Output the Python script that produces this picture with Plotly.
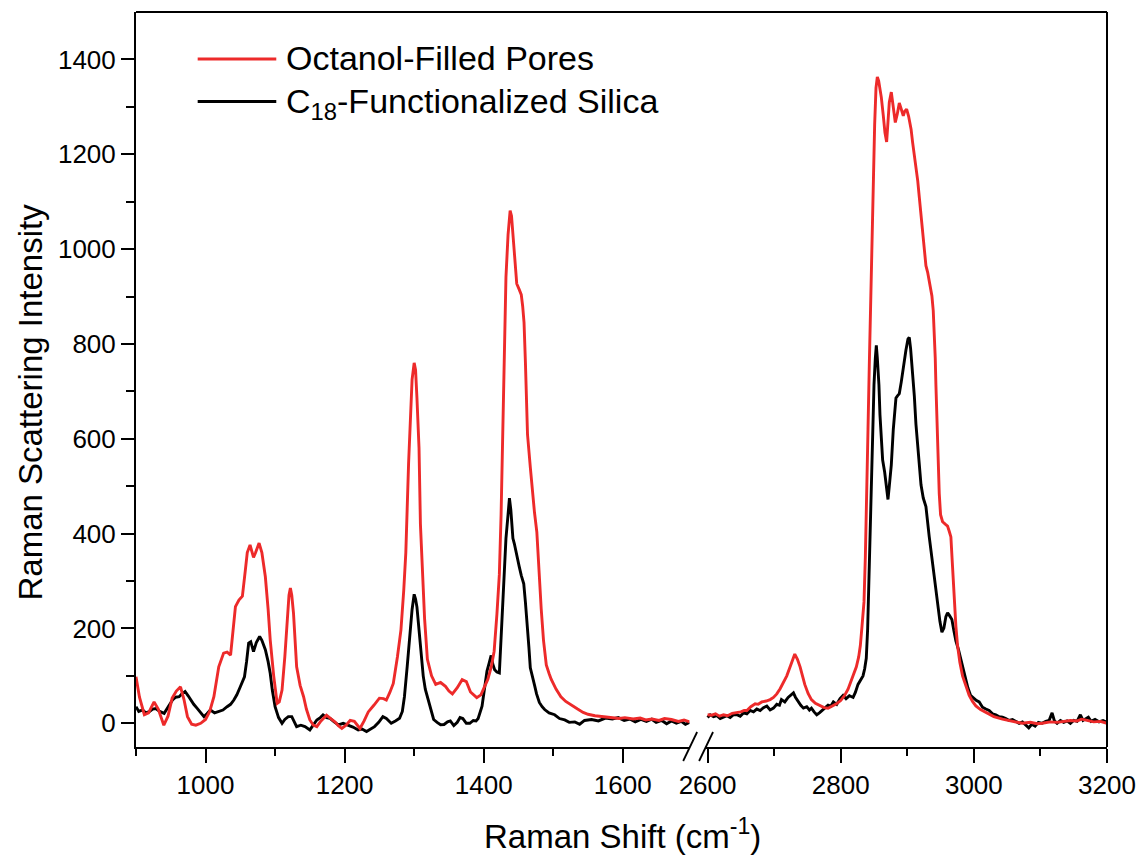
import plotly.graph_objects as go

# ---------------- data ----------------
red_left_x = [900, 905, 912, 918, 926, 932, 940, 946, 952, 958, 964, 969, 974, 980, 986, 993,
              1000, 1006, 1012, 1019, 1026, 1031, 1036, 1040, 1043, 1048, 1053, 1057, 1060, 1064,
              1067, 1069, 1072, 1077, 1081, 1086, 1090, 1093, 1098, 1103, 1106, 1110, 1114, 1117,
              1120, 1122, 1124, 1126.5, 1129, 1131, 1136, 1141, 1145, 1150, 1155, 1160, 1166, 1174,
              1180, 1186, 1191, 1196, 1202, 1208, 1214, 1222, 1228, 1234, 1242, 1250, 1256, 1260,
              1265, 1270, 1276, 1281, 1285, 1288, 1292, 1295, 1297, 1300, 1302, 1304, 1307, 1309,
              1312, 1315, 1319, 1325, 1331, 1338, 1345, 1350, 1355, 1362, 1369, 1375, 1381, 1386,
              1390, 1396, 1402, 1406, 1411, 1415, 1419, 1422.5, 1425, 1427, 1430, 1432, 1435, 1438,
              1440, 1442, 1445, 1447.5, 1451, 1454, 1456, 1458, 1460, 1463, 1467, 1470.6, 1473,
              1476.4, 1479, 1482.7, 1486, 1490, 1494, 1497, 1504, 1511, 1518, 1526, 1535, 1543,
              1550, 1560, 1574, 1585, 1595, 1603, 1615, 1625, 1633, 1642, 1652, 1660, 1670, 1680,
              1688, 1696]
red_left_y = [98, 55, 18, 22, 45, 30, -4, 15, 53, 68, 77, 50, 14, -2, -4, 0,
              8, 25, 56, 119, 148, 150, 144, 200, 246, 260, 268, 320, 360, 376,
              358, 350, 360, 380, 360, 309, 240, 176, 100, 42, 45, 70, 140, 211,
              270, 285, 270, 232, 170, 119, 80, 56, 30, 7, -4, -7, 5, 17,
              10, 3, -5, -11, -4, 6, 4, -11, 5, 24, 38, 53, 52, 49,
              65, 84, 141, 197, 280, 360, 549, 660, 725, 760, 745, 686, 580, 420,
              300, 220, 135, 100, 82, 86, 78, 68, 62, 75, 92, 88, 66, 60,
              54, 60, 78, 93, 120, 152, 230, 314, 440, 609, 790, 941, 1030, 1081,
              1070, 1030, 970, 927, 915, 904, 880, 845, 760, 609, 540, 477, 445,
              403, 330, 241, 175, 123, 105, 93, 72, 56, 46, 38, 30, 23,
              19, 16, 13, 12, 10, 12, 9, 11, 7, 9, 6, 10, 8, 4,
              7, 3]

black_left_x = [900, 904, 909.5, 914, 919, 924, 928.6, 934, 940.5, 946, 952.5, 957, 962, 966,
                970.6, 975, 978.7, 983, 988, 993, 997.7, 1002, 1007, 1013, 1019, 1025, 1031,
                1036, 1040.7, 1045, 1050, 1056, 1059, 1062, 1065, 1069, 1073, 1077.8, 1081, 1086,
                1090, 1093, 1096, 1100, 1105, 1110, 1114, 1119, 1124, 1128, 1131, 1137, 1143,
                1150, 1155, 1160, 1165, 1169, 1174, 1179, 1185, 1191, 1198, 1205, 1212, 1219.5,
                1225, 1231.5, 1237, 1243, 1249, 1255, 1260, 1267, 1273, 1279, 1283, 1286, 1290,
                1293, 1297, 1300, 1302, 1304, 1307, 1310, 1313, 1316, 1320, 1324, 1328, 1333,
                1338, 1343, 1348, 1352, 1357, 1362, 1366, 1370, 1375, 1380, 1385, 1389, 1392,
                1397.6, 1401, 1404.7, 1408, 1410.7, 1413, 1415.7, 1419, 1422.5, 1425, 1427, 1430,
                1432, 1435, 1437, 1439, 1442, 1444, 1447, 1451, 1454, 1457.6, 1460, 1463, 1465,
                1467, 1470, 1473, 1476, 1480, 1484, 1487.6, 1494, 1502, 1509, 1516.5, 1523, 1531,
                1538, 1545, 1555, 1565, 1575, 1585, 1593.6, 1602, 1610, 1618, 1626, 1634, 1641.6,
                1648, 1656, 1663, 1670, 1677, 1684, 1690, 1696]
black_left_y = [35, 25, 28, 22, 24.5, 30, 31, 25, 21, 35, 49, 55, 56, 62,
                67, 58, 49, 40, 31.5, 22, 14, 20, 28, 22, 24.5, 28, 35,
                40, 49, 60, 77, 98, 130, 169, 172, 151, 170, 183, 175, 155,
                130, 105.5, 70, 35, 12, 0, 8, 14, 14, 2, -7, -4, -7,
                -14, -3, 7, 12, 17.5, 12, 10.5, 3, -3.5, 0, -3.5, -8, -14,
                -12, -17.5, -12, -7, 2, 14, 10, 0, 5, 10.5, 25, 56, 120,
                176, 240, 272, 262, 245, 200, 140, 100, 72, 50, 25, 8, 2,
                -3, -2.5, 3, 5, -5, 2, 12, 10, 0, 0, 6, 5, 10,
                36, 75, 110, 128, 143, 125, 113, 108, 106, 180, 242, 320,
                390, 440, 475, 450, 390, 379, 355, 331, 312, 294, 255, 206, 160,
                117, 95, 81, 62, 44, 35, 29, 22, 18, 10, 7, 2, 3,
                -2, 6, 8, 5, 11, 9, 12, 6, 9, 3, 8, 4, 8.5,
                2, 6, -1, 5, 0, 4, -2, 2]

red_right_x = [2600, 2606, 2612, 2618, 2624, 2630, 2637, 2644, 2650, 2655, 2659, 2665, 2671.5,
               2676, 2681.5, 2688, 2694, 2699, 2704, 2709, 2714, 2719, 2725, 2731, 2735, 2739,
               2743, 2746, 2751, 2756, 2762, 2768.6, 2775, 2781, 2787, 2793.6, 2800, 2806, 2811,
               2816, 2820, 2823.5, 2827, 2829.5, 2832, 2835, 2837, 2839.5, 2841, 2843, 2845, 2847,
               2849, 2851, 2853, 2855, 2857, 2859, 2861, 2864, 2866.5, 2869, 2871, 2873, 2876,
               2879, 2882, 2885, 2888, 2891, 2894, 2896, 2899, 2902, 2905.7, 2908, 2910.6, 2913,
               2915.7, 2918, 2920.6, 2923, 2925.6, 2928, 2930.6, 2934, 2937, 2939, 2940.5, 2942,
               2943, 2945, 2948, 2950, 2953, 2957, 2960.5, 2963, 2965.5, 2968, 2970.4, 2973,
               2975.5, 2979, 2983, 2988, 2993, 2998, 3003, 3010, 3018, 3030, 3043, 3055, 3065,
               3072.6, 3085, 3095, 3102.5, 3115, 3125, 3132.4, 3145, 3155, 3162, 3170, 3180, 3190,
               3200]
red_right_y = [18, 17, 20, 15, 18, 16, 21, 22, 24, 27, 27, 35, 41,
               40, 45, 47, 50, 54.5, 62, 73, 88, 100, 123, 146, 135, 119,
               98, 82, 63, 50, 42, 36.5, 33, 31.7, 36, 41, 48, 59, 72,
               91, 105, 119, 140, 164, 205, 256, 350, 485, 620, 759, 900, 1034,
               1160, 1263, 1340, 1363, 1355, 1340, 1320, 1281, 1245, 1226, 1260, 1310, 1331,
               1300, 1267, 1285, 1308, 1295, 1281, 1290, 1295, 1280, 1253, 1225, 1199, 1170,
               1144, 1110, 1071, 1030, 988, 965, 951, 925, 901, 870, 832, 770,
               714, 600, 485, 440, 425, 420, 416, 405, 393, 330, 256, 205,
               164, 128, 100, 78, 59, 46, 36.5, 29, 22.6, 14, 8.7, 5, 3,
               0, 2, -1, 0, 3, 2, 4, 6, 5, 8.7, 6, 3, 4,
               0]

black_right_x = [2600, 2604, 2609, 2614, 2619, 2624, 2629, 2634, 2639, 2644, 2649, 2654, 2659,
                 2664, 2669, 2674, 2679, 2684, 2689, 2694, 2699, 2704, 2708, 2711, 2716, 2721,
                 2725, 2729, 2732, 2736, 2740, 2744, 2749, 2753, 2756, 2760, 2764, 2768, 2772,
                 2776, 2781, 2785, 2789, 2794, 2799, 2803.6, 2808, 2813, 2818.6, 2822, 2826, 2830,
                 2833.5, 2836, 2838.4, 2840.5, 2842.4, 2844, 2846, 2848, 2850, 2852, 2853.5, 2855,
                 2857.4, 2859, 2861, 2863, 2866, 2868, 2871, 2873, 2876, 2879, 2883, 2885, 2888,
                 2891, 2893, 2896, 2898, 2901, 2903, 2905, 2908, 2910.6, 2913, 2917, 2920.6, 2924,
                 2928, 2933, 2937, 2940.5, 2945.6, 2949, 2952, 2955, 2958, 2960.5, 2963, 2967,
                 2970, 2973, 2977, 2980, 2984, 2988, 2991, 2995, 3000, 3004, 3008, 3013, 3018,
                 3023, 3028, 3033, 3038, 3043, 3048, 3053, 3058, 3063, 3068, 3073, 3078, 3082.5,
                 3087, 3092, 3097, 3102.5, 3108, 3113, 3117.5, 3121, 3125, 3130, 3135, 3140, 3145,
                 3150, 3155, 3160, 3164, 3168, 3172, 3176, 3182, 3188, 3194, 3200]
black_right_y = [12, 18, 14, 16, 10, 13, 16, 12, 18, 18, 15, 22, 20,
                 27, 24, 30, 27, 33, 36.5, 28, 32, 40, 38, 50, 45, 54.5,
                 60, 64, 55, 45, 38, 32, 35, 28, 32, 24, 18, 22, 28,
                 32, 38, 36, 45, 40, 52, 59, 52, 58, 54.5, 65, 82, 92,
                 100, 115, 137, 200, 302, 420, 530, 630, 714, 770, 797, 770,
                 714, 650, 590, 555, 530, 510, 472, 500, 545, 620, 686, 690, 695,
                 720, 741, 770, 787, 810, 814, 790, 741, 690, 631, 560, 503, 475,
                 457, 393, 350, 311, 247, 215, 192, 201, 225, 233, 228, 219,
                 195, 174, 155, 137, 112, 91, 75, 59, 52, 48, 45, 34, 30,
                 27, 20, 18, 14, 13, 10, 6, 8, 4, 0, 3, -4, -9.5,
                 -2, -6, 2, 0, 4, 6, 22, 5, 0, 6, 2, 5, 0,
                 6, 4, 18, 6, 10, 13, 4, 8, 3, 6, 2]

series_names = ["Octanol-Filled Pores", "C<sub>18</sub>-Functionalized Silica"]
y_major = [0, 200, 400, 600, 800, 1000, 1200, 1400]
y_minor = [100, 300, 500, 700, 900, 1100, 1300]
x_left_major = [1000, 1200, 1400, 1600]
x_left_minor = [900, 1100, 1300, 1500]
x_right_major = [2600, 2800, 3000, 3200]
x_right_minor = [2700, 2900, 3100]

# ---------------- layout geometry ----------------
W, H = 1148, 860
ML, MR, MT, MB = 136, 36, 12, 113
PW, PH = W - ML - MR, H - MT - MB
RED = "#ED2A2A"
FONT = "Liberation Sans, Arial, sans-serif"
LW = 2.9


def px(x):
    return (x - ML) / PW


def py(y):
    return (H - MB - y) / PH


d1 = px(692.4)
d2 = px(708.5)

fig = go.Figure()
fig.add_trace(go.Scatter(x=black_left_x, y=black_left_y, xaxis="x", yaxis="y", mode="lines",
                         line=dict(color="black", width=LW), showlegend=False))
fig.add_trace(go.Scatter(x=red_left_x, y=red_left_y, xaxis="x", yaxis="y", mode="lines",
                         line=dict(color=RED, width=LW), showlegend=False))
fig.add_trace(go.Scatter(x=black_right_x, y=black_right_y, xaxis="x2", yaxis="y", mode="lines",
                         line=dict(color="black", width=LW), showlegend=False))
fig.add_trace(go.Scatter(x=red_right_x, y=red_right_y, xaxis="x2", yaxis="y", mode="lines",
                         line=dict(color=RED, width=LW), showlegend=False))

axis_common = dict(showline=True, linewidth=2, linecolor="black", ticks="outside",
                   tickwidth=2, tickcolor="black", showgrid=False, zeroline=False,
                   tickfont=dict(family=FONT, size=26, color="black"))

fig.update_layout(
    width=W, height=H,
    margin=dict(l=ML, r=MR, t=MT, b=MB),
    paper_bgcolor="white", plot_bgcolor="white",
    font=dict(family=FONT, color="black"),
    showlegend=False,
    xaxis=dict(domain=[0, d1], range=[900, 1696], anchor="y", tickvals=x_left_major,
               ticklen=14, minor=dict(tickvals=x_left_minor, ticks="outside", ticklen=7,
                                      tickwidth=2, tickcolor="black"),
               **axis_common),
    xaxis2=dict(domain=[d2, 1], range=[2597, 3200], anchor="y", tickvals=x_right_major,
                ticklen=14, minor=dict(tickvals=x_right_minor, ticks="outside", ticklen=7,
                                       tickwidth=2, tickcolor="black"),
                **axis_common),
    yaxis=dict(domain=[0, 1], range=[-50, 1500], anchor="x", tickvals=y_major,
               ticklen=13, minor=dict(tickvals=y_minor, ticks="outside", ticklen=8,
                                      tickwidth=2, tickcolor="black"),
               **axis_common),
)

shapes = [
    # top and right frame
    dict(type="line", xref="paper", yref="paper", x0=0, x1=1, y0=1, y1=1,
         line=dict(color="black", width=2)),
    dict(type="line", xref="paper", yref="paper", x0=1, x1=1, y0=0, y1=1,
         line=dict(color="black", width=2)),
    # axis break marks
    dict(type="line", xref="paper", yref="paper", x0=px(686), x1=px(700),
         y0=py(761), y1=py(732), line=dict(color="black", width=1.8)),
    dict(type="line", xref="paper", yref="paper", x0=px(702), x1=px(716),
         y0=py(761), y1=py(732), line=dict(color="black", width=1.8)),
    # legend samples
    dict(type="line", xref="paper", yref="paper", x0=px(198), x1=px(277),
         y0=py(59), y1=py(59), line=dict(color=RED, width=3)),
    dict(type="line", xref="paper", yref="paper", x0=px(198), x1=px(277),
         y0=py(101.5), y1=py(101.5), line=dict(color="black", width=3)),
]
fig.update_layout(shapes=shapes)

annotations = [
    dict(text=series_names[0], xref="paper", yref="paper", x=px(285), y=py(57.5),
         xanchor="left", yanchor="middle", showarrow=False,
         font=dict(family=FONT, size=34, color="black")),
    dict(text=series_names[1], xref="paper", yref="paper", x=px(285), y=py(104),
         xanchor="left", yanchor="middle", showarrow=False,
         font=dict(family=FONT, size=34, color="black")),
    dict(text="Raman Shift (cm<sup>-1</sup>)", xref="paper", yref="paper", x=px(625),
         y=py(834), xanchor="center", yanchor="middle", showarrow=False,
         font=dict(family=FONT, size=33, color="black")),
    dict(text="Raman Scattering Intensity", xref="paper", yref="paper", x=px(30),
         y=py(402), xanchor="center", yanchor="middle", showarrow=False, textangle=-90,
         font=dict(family=FONT, size=33, color="black")),
]
fig.update_layout(annotations=annotations)

fig.write_html("out.html")
